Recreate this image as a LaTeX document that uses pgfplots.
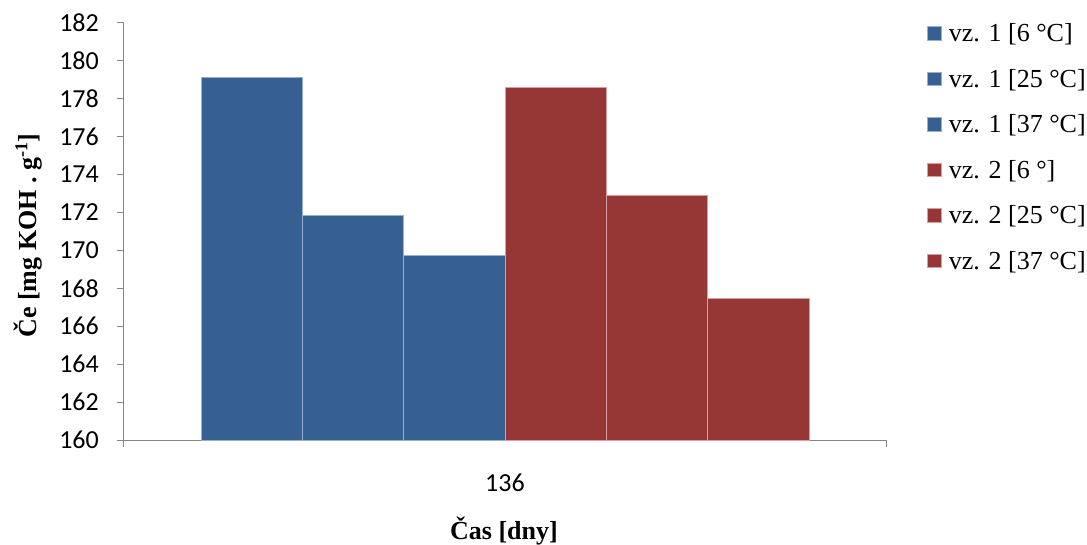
\documentclass[border=0pt]{standalone}
\usepackage{fontspec}
\setmainfont{Liberation Serif}
\newfontfamily\calfont{Carlito}
\usepackage{pgfplots}
\pgfplotsset{compat=1.18}
\definecolor{cblue}{RGB}{55,96,146}
\definecolor{cred}{RGB}{150,55,53}
\definecolor{eblue}{RGB}{150,175,210}
\definecolor{ered}{RGB}{215,160,160}
\definecolor{axgray}{RGB}{134,134,134}
\begin{document}
\begin{tikzpicture}
\useasboundingbox (-124pt,-104pt) rectangle (963pt,440pt);
\begin{axis}[
  at={(0,0)}, anchor=south west,
  scale only axis,
  width=762pt, height=417.3pt,
  ybar=0pt, bar width=101.3pt,
  xmin=-1, xmax=1,
  ymin=160, ymax=182,
  ytick={160,162,...,182},
  xtick={-1,1}, xticklabels={},
  extra x ticks={0}, extra x tick labels={136},
  extra x tick style={major tick length=0pt},
  axis lines=left,
  axis line style={-, axgray, line width=1pt},
  tick style={axgray, line width=1pt},
  major tick length=7pt,
  tick align=outside,
  /pgf/number format/assume math mode=true,
  ticklabel style={font=\calfont\fontsize{26}{31}\selectfont, text=black},
  yticklabel style={anchor=east, inner sep=0pt, xshift=-18pt},
  xticklabel style={anchor=center, inner sep=0pt, yshift=-43pt},
  xlabel={\textbf{Čas [dny]}},
  ylabel={\textbf{Če [mg KOH . g\textsuperscript{-1}]}},
  label style={font=\fontsize{26}{31}\selectfont},
  xlabel style={at={(axis description cs:0.4987,-0.218)}, anchor=center, inner sep=0pt},
  ylabel style={at={(axis description cs:-0.126,0.49)}, anchor=center, rotate=0, inner sep=0pt},
  legend style={draw=none, fill=none, at={(1.050,1.008)}, anchor=north west,
    font=\fontsize{26}{31}\selectfont, row sep=22pt,
    cells={anchor=west},
    /tikz/every odd column/.append style={column sep=5pt}},
  legend image code/.code={\fill[#1] (0pt,-6.5pt) rectangle (14pt,7pt);},
]
\addplot[fill=cblue, draw=eblue, line width=0.6pt] coordinates {(0,179.1)};
\addplot[fill=cblue, draw=eblue, line width=0.6pt] coordinates {(0,171.85)};
\addplot[fill=cblue, draw=eblue, line width=0.6pt] coordinates {(0,169.75)};
\addplot[fill=cred, draw=ered, line width=0.6pt] coordinates {(0,178.6)};
\addplot[fill=cred, draw=ered, line width=0.6pt] coordinates {(0,172.9)};
\addplot[fill=cred, draw=ered, line width=0.6pt] coordinates {(0,167.45)};
\legend{vz. 1 [6 °C], vz. 1 [25 °C], vz. 1 [37 °C], vz. 2 [6 °], vz. 2 [25 °C], vz. 2 [37 °C]}
\end{axis}
\end{tikzpicture}
\end{document}
